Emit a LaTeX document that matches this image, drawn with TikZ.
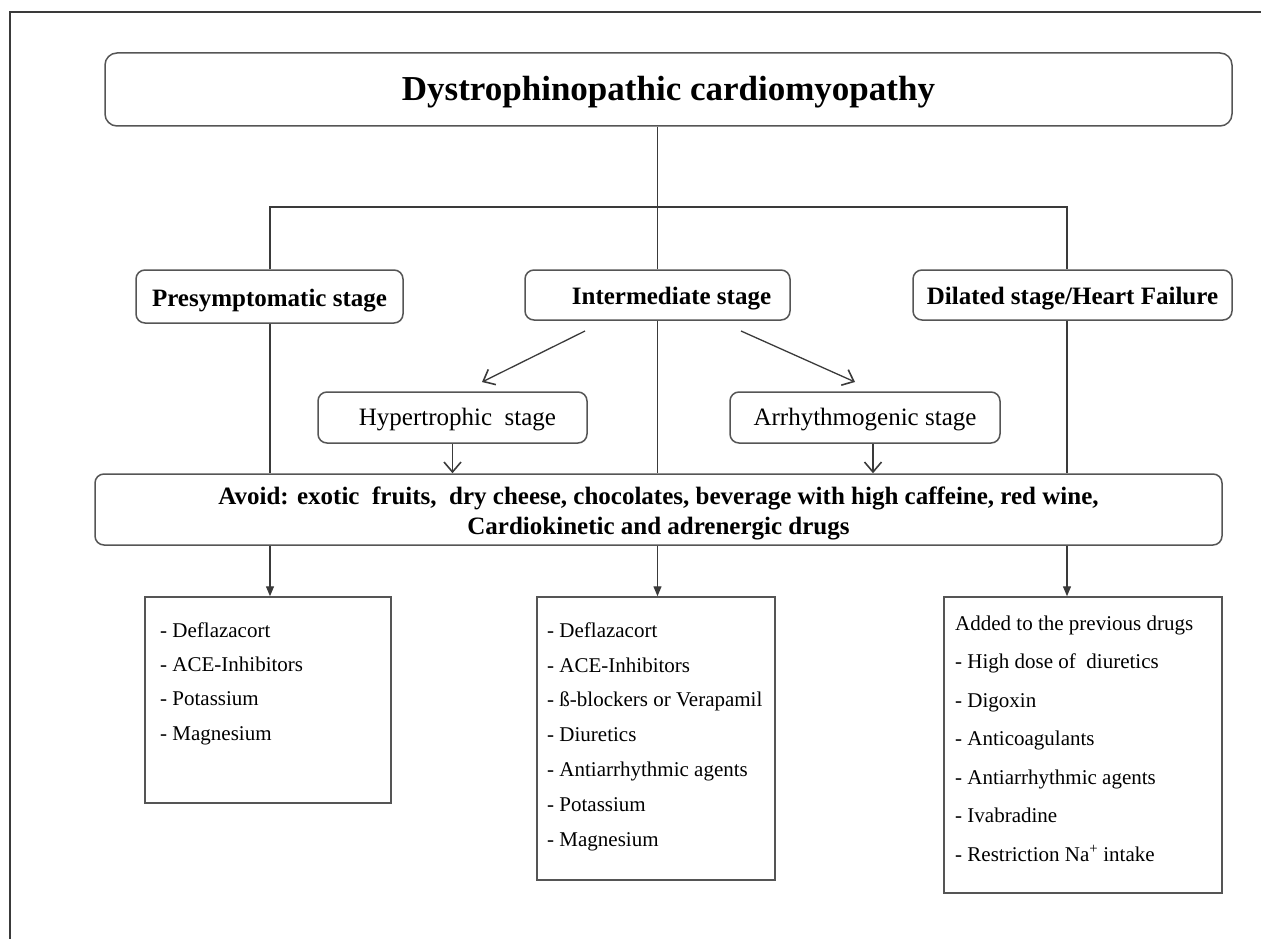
\documentclass[tikz,border=0pt]{standalone}
\usepackage{fontspec}
\setmainfont{Liberation Serif}
\usetikzlibrary{arrows.meta,calc}
\definecolor{boxgray}{HTML}{555555}
\definecolor{linegray}{HTML}{3A3A3A}
\newcommand\lowtext[2]{\raisebox{-#1}[\height][\depth]{#2}}
\begin{document}
\begin{tikzpicture}[x=1pt,y=-1pt,
  rbox/.style={draw=boxgray, line width=1.5pt, rounded corners=9pt, inner sep=0pt, align=center},
  sbox/.style={draw=boxgray, line width=1.5pt, inner sep=0pt},
  boldtext/.style={font=\fontsize{25}{30}\selectfont\bfseries},
  regtext/.style={font=\fontsize{25}{30}\selectfont},
  listtext/.style={inner sep=0pt, align=left, anchor=base west},
  conn/.style={draw=linegray, line width=1.3pt},
  barb/.style={conn, -{Straight Barb[length=10pt,width=17pt,line width=1.6pt]}},
  tri/.style={conn, -{Triangle[length=10pt,width=8pt]}}
]
\useasboundingbox (0,0) rectangle (1261,939);
% outer frame (top and left edges)
\draw[draw=linegray, line width=1.3pt] (1261,12) -- (10,12) -- (10,939);

% nodes
\node[rbox, rounded corners=12pt, minimum width=1127pt, minimum height=73pt,
      font=\fontsize{35}{40}\selectfont\bfseries] (title) at (668.5,89.5) {\lowtext{3pt}{Dystrophinopathic cardiomyopathy}};
\node[rbox, boldtext, minimum width=267pt, minimum height=53pt] (pre) at (269.5,296.5) {\lowtext{4pt}{Presymptomatic stage}};
\node[rbox, boldtext, minimum width=265pt, minimum height=50pt] (inter) at (657.5,295) {\lowtext{4pt}{\hspace*{28pt}Intermediate stage}};
\node[rbox, boldtext, minimum width=319pt, minimum height=50pt] (dil) at (1072.5,295) {\lowtext{4pt}{Dilated stage/Heart Failure}};
\node[rbox, regtext, minimum width=269pt, minimum height=51pt] (hyp) at (452.5,417.5) {\lowtext{2pt}{\hspace*{10pt}Hypertrophic\ \ stage}};
\node[rbox, regtext, minimum width=270pt, minimum height=51pt] (arr) at (865,417.5) {\lowtext{2pt}{Arrhythmogenic stage}};
\node[rbox, boldtext, minimum width=1127pt, minimum height=71pt] (avoid) at (658.5,509.5)
  {\lowtext{4pt}{\begin{tabular}{@{}c@{}}Avoid: exotic\ \ fruits,\ \ dry cheese, chocolates, beverage with high caffeine, red wine,\\Cardiokinetic and adrenergic drugs\end{tabular}}};

\node[sbox, minimum width=246pt, minimum height=206pt] (b1) at (268,700) {};
\node[sbox, minimum width=238pt, minimum height=283pt] (b2) at (656,738.5) {};
\node[sbox, minimum width=278pt, minimum height=296pt] (b3) at (1083,745) {};

\node[listtext, font=\fontsize{21}{34.3}\selectfont] (l1) at (160,740)
  {- Deflazacort\\- ACE-Inhibitors\\- Potassium\\- Magnesium};
\node[listtext, font=\fontsize{21}{34.8}\selectfont] (l2) at (547,846)
  {- Deflazacort\\- ACE-Inhibitors\\- ß-blockers or Verapamil\\- Diuretics\\- Antiarrhythmic agents\\- Potassium\\- Magnesium};
\node[listtext, font=\fontsize{21}{38.5}\selectfont] (l3) at (955,861)
  {Added to the previous drugs\\- High dose of\ \ diuretics\\- Digoxin\\- Anticoagulants\\- Antiarrhythmic agents\\- Ivabradine\\- Restriction Na\textsuperscript{+} intake};

% junction coordinates
\coordinate (jl) at (270,207);
\coordinate (jr) at (1067,207);
\coordinate (ax) at (873,0);
\coordinate (d1s) at (585,331);
\coordinate (d1e) at (482,382);
\coordinate (d2s) at (741,331);
\coordinate (d2e) at (855,382);

% connectors
\draw[conn] (title.south -| inter.north) -- (inter.north);
\draw[conn] (pre.north -| jl) -- (jl) -- (jr) -- (jr |- dil.north);
\draw[conn] (pre.south -| jl) -- (avoid.north -| jl);
\draw[conn] (inter.south) -- (avoid.north -| inter.south);
\draw[conn] (jr |- dil.south) -- (jr |- avoid.north);
\draw[barb] (d1s) -- (d1e);
\draw[barb] (d2s) -- (d2e);
\draw[barb] (hyp.south) -- (avoid.north -| hyp.south);
\draw[barb] (arr.south -| ax) -- (avoid.north -| ax);
\draw[tri] (avoid.south -| jl) -- (b1.north -| jl);
\draw[tri] (avoid.south -| inter.south) -- (b2.north -| inter.south);
\draw[tri] (avoid.south -| jr) -- (b3.north -| jr);
\end{tikzpicture}
\end{document}
